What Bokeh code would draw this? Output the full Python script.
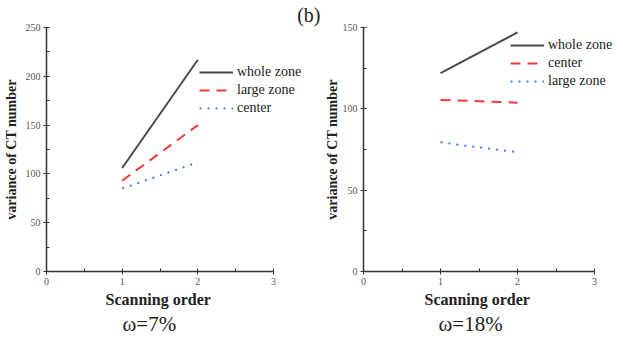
from bokeh.plotting import figure
from bokeh.models import Range1d, Legend, LegendItem, FixedTicker, Title
from bokeh.layouts import row
from bokeh.embed import file_html
from bokeh.resources import INLINE

# data
scan = [1, 2]
a_whole = [106, 217]
a_large = [93, 150]
a_center = [85, 112]
b_whole = [122, 147]
b_center = [105.5, 103.8]
b_large = [79.4, 73.3]

FONT = "Liberation Serif"
GRAY = "#4a4a4a"
RED = "#f23a3a"
BLUE = "#3f7fe0"


def make_fig(width, left, right, top, bottom, xmax, ymax, yticks, lab_standoff, tick_standoff):
    p = figure(width=width, height=338, output_backend="svg", toolbar_location=None,
               x_range=Range1d(0, xmax), y_range=Range1d(0, ymax),
               min_border_left=left, min_border_right=right,
               min_border_top=top, min_border_bottom=bottom)
    p.outline_line_color = None
    p.grid.visible = False
    p.xaxis.bounds = (0, 3)
    p.xaxis.ticker = FixedTicker(ticks=[0, 1, 2, 3], minor_ticks=[0.5, 1.5, 2.5])
    p.yaxis.ticker = FixedTicker(ticks=yticks,
                                 minor_ticks=[t + (yticks[1] - yticks[0]) / 2 for t in yticks[:-1]])
    for ax in (p.xaxis, p.yaxis):
        ax.axis_line_color = "#333333"
        ax.axis_line_width = 1.5
        ax.major_tick_line_color = "#333333"
        ax.minor_tick_line_color = "#333333"
        ax.major_tick_in = 3
        ax.major_tick_out = 3
        ax.minor_tick_in = 3
        ax.minor_tick_out = 0
        ax.major_label_text_font = FONT
        ax.major_label_text_font_size = "10px"
        ax.major_label_text_color = "#555555"
        ax.axis_label_text_font = FONT
        ax.axis_label_text_font_style = "bold"
        ax.axis_label_text_color = "#222222"
    p.yaxis.axis_label = "variance of CT number"
    p.yaxis.axis_label_text_font_size = "14px"
    p.yaxis.axis_label_standoff = lab_standoff
    p.xaxis.major_label_standoff = 3
    p.yaxis.major_label_standoff = tick_standoff
    return p


def add_bottom_titles(p, xlabel_offset, caption, caption_offset):
    p.add_layout(Title(text="Scanning order", align="left", offset=xlabel_offset,
                       text_font=FONT, text_font_size="16px", text_font_style="bold",
                       text_color="#222222", standoff=2), "below")
    p.add_layout(Title(text=caption, align="left", offset=caption_offset,
                       text_font=FONT, text_font_size="21px", text_font_style="normal",
                       text_color="#222222", standoff=2), "below")


def add_lines(p, series, loc):
    items = []
    for ys, color, dash, label in series:
        r = p.line(scan, ys, line_color=color, line_width=2, line_dash=dash)
        items.append(LegendItem(label=label, renderers=[r]))
    leg = Legend(items=items, location=loc, glyph_width=34, glyph_height=18,
                 label_height=18, spacing=0, padding=0, margin=0,
                 label_standoff=4, border_line_color=None, background_fill_alpha=0,
                 label_text_font=FONT, label_text_font_size="14px",
                 label_text_color="#222222")
    p.add_layout(leg, "center")


p1 = make_fig(321, 46, 5, 27, 67, 3.568, 250, [0, 50, 100, 150, 200, 250], 4, 3)
add_lines(p1, [(a_whole, GRAY, "solid", "whole zone"),
               (a_large, RED, "10 7", "large zone"),
               (a_center, BLUE, "2 6", "center")], (153, 154))
add_bottom_titles(p1, 59, "ω=7%", 76)
p1.add_layout(Title(text="(b)", align="right", offset=-4, text_font=FONT, text_font_size="20px",
                    text_font_style="normal", text_color="#222222", standoff=0,
                    vertical_align="top"), "above")

p2 = make_fig(302, 41, 3, 27, 67, 3.336, 150, [0, 50, 100, 150], 0, 3)
add_lines(p2, [(b_whole, GRAY, "solid", "whole zone"),
               (b_center, RED, "10 7", "center"),
               (b_large, BLUE, "2 6", "large zone")], (147, 181))
add_bottom_titles(p2, 61, "ω=18%", 75)

layout = row(p1, p2, spacing=0)
open("out.html", "w").write(file_html(layout, INLINE))
